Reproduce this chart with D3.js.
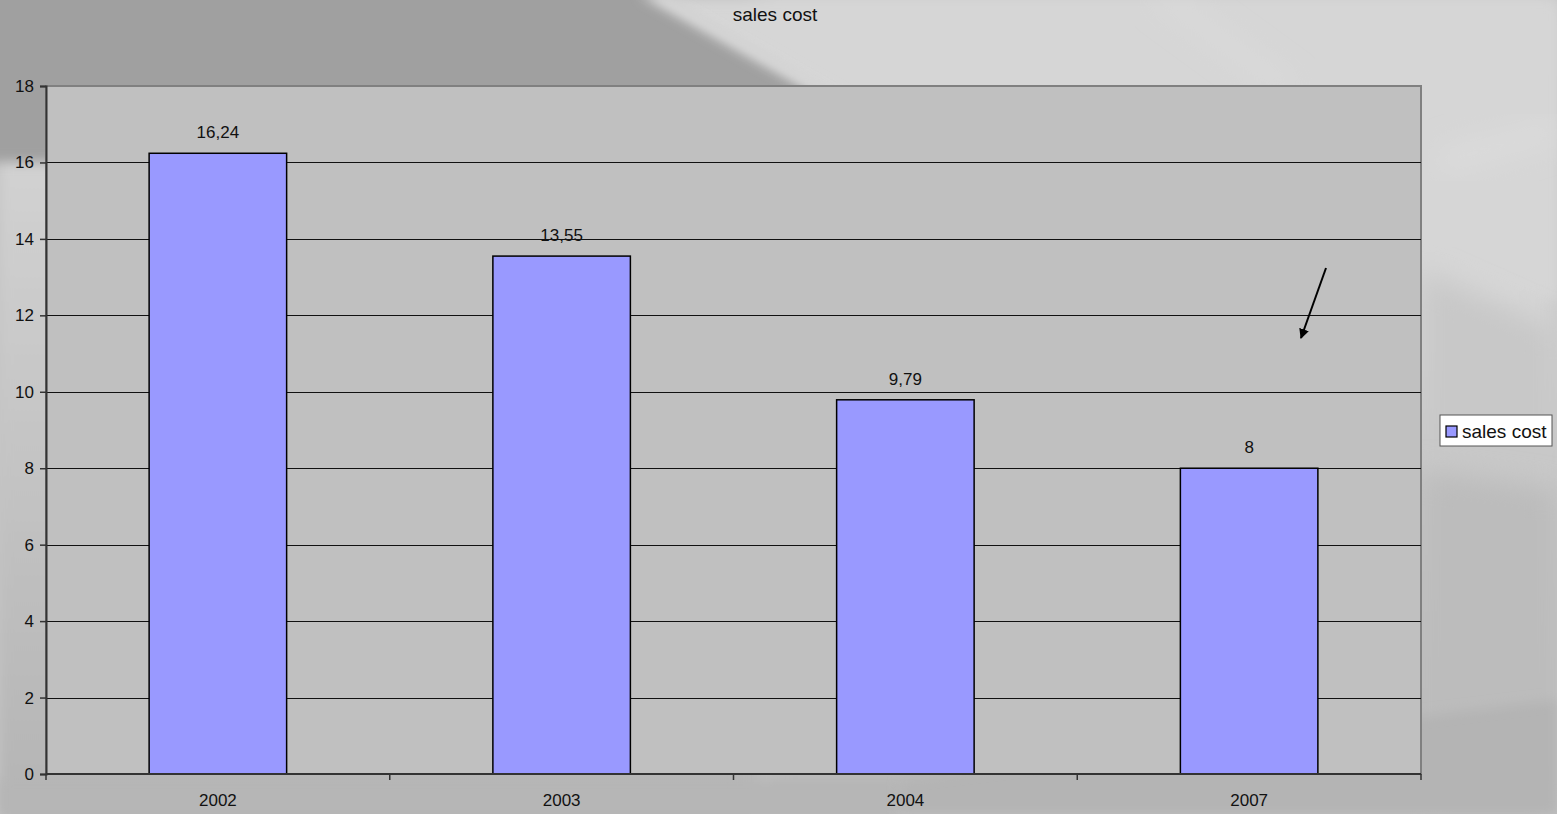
<!DOCTYPE html>
<html>
<head>
<meta charset="utf-8">
<script src="https://cdn.jsdelivr.net/npm/d3@7"></script>
<style>
  html, body { margin: 0; padding: 0; background: #c4c4c4; }
  svg { display: block; font-family: "Liberation Sans", Arial, sans-serif; }
</style>
</head>
<body>
<svg id="chart" width="1557" height="814"></svg>
<script>
// Sales cost per year
const categories = ["2002", "2003", "2004", "2007"];
const salesCost = [16.24, 13.55, 9.79, 8];
const yTicks = [0, 2, 4, 6, 8, 10, 12, 14, 16, 18];
const seriesName = "sales cost";
const chartTitle = "sales cost";

const W = 1557, H = 814;
const plot = { left: 46, top: 86, right: 1421, bottom: 774 };

const svg = d3.select("#chart");

// ---- soft greyscale backdrop ----
const defs = svg.append("defs");
defs.append("filter").attr("id", "soft")
  .attr("x", "-10%").attr("y", "-10%").attr("width", "120%").attr("height", "120%")
  .append("feGaussianBlur").attr("stdDeviation", 6);
defs.append("filter").attr("id", "softer")
  .attr("x", "-10%").attr("y", "-10%").attr("width", "120%").attr("height", "120%")
  .append("feGaussianBlur").attr("stdDeviation", 14);

const lg = defs.append("linearGradient").attr("id", "leftFade")
  .attr("x1", 0).attr("y1", 0).attr("x2", 0).attr("y2", 1);
lg.append("stop").attr("offset", "0%").attr("stop-color", "#d2d2d2");
lg.append("stop").attr("offset", "100%").attr("stop-color", "#b4b4b4");

const rg = defs.append("linearGradient").attr("id", "rightFade")
  .attr("x1", 0).attr("y1", 0).attr("x2", 0).attr("y2", 1);
rg.append("stop").attr("offset", "0%").attr("stop-color", "#dcdcdc");
rg.append("stop").attr("offset", "45%").attr("stop-color", "#d4d4d4");
rg.append("stop").attr("offset", "60%").attr("stop-color", "#c6c6c6");
rg.append("stop").attr("offset", "100%").attr("stop-color", "#b8b8b8");

const bg = svg.append("g");
bg.append("rect").attr("width", W).attr("height", H).attr("fill", "#c4c4c4");
// lower-left band
bg.append("rect").attr("x", 0).attr("y", 150).attr("width", 760).attr("height", H - 150)
  .attr("fill", "url(#leftFade)").attr("filter", "url(#soft)");
// right band
bg.append("rect").attr("x", 760).attr("y", 0).attr("width", W - 760).attr("height", H)
  .attr("fill", "url(#rightFade)").attr("filter", "url(#softer)");
// light upper right sky
bg.append("polygon").attr("points", "640,0 1557,0 1557,300 1440,260 840,100")
  .attr("fill", "#d6d6d6").attr("filter", "url(#soft)");
// dark upper-left slab with a diagonal edge
bg.append("polygon").attr("points", "-20,-20 630,-20 830,95 830,160 -20,162")
  .attr("fill", "#a0a0a0").attr("filter", "url(#soft)");
// light streak along the slab edge
bg.append("polygon").attr("points", "640,-5 664,-5 850,100 826,100")
  .attr("fill", "#dedede").attr("filter", "url(#soft)");
// faint streaks in the upper right
bg.append("polygon").attr("points", "1150,-5 1170,-5 1300,90 1280,90")
  .attr("fill", "#dcdcdc").attr("filter", "url(#softer)");
bg.append("polygon").attr("points", "1440,150 1557,120 1557,140 1440,175")
  .attr("fill", "#dcdcdc").attr("filter", "url(#softer)");
// shadow sweep on the far right
bg.append("polygon").attr("points", "1421,270 1557,330 1557,500 1421,470")
  .attr("fill", "#c8c8c8").attr("filter", "url(#softer)");
bg.append("polygon").attr("points", "1421,470 1557,490 1557,814 1421,814")
  .attr("fill", "#bcbcbc").attr("filter", "url(#softer)");
// bottom strip
bg.append("rect").attr("x", 0).attr("y", 780).attr("width", 900).attr("height", 40)
  .attr("fill", "#b6b6b6").attr("filter", "url(#soft)");
bg.append("polygon").attr("points", "900,780 1557,700 1557,814 900,814")
  .attr("fill", "#b4b4b4").attr("filter", "url(#soft)");

// ---- scales ----
const x = d3.scaleBand().domain(categories)
  .range([plot.left, plot.right]).paddingInner(0.6).paddingOuter(0.3);
const xOuter = d3.scaleBand().domain(categories).range([plot.left, plot.right]);
const y = d3.scaleLinear().domain([0, 18]).range([plot.bottom, plot.top]);

// ---- plot area ----
svg.append("rect")
  .attr("x", plot.left).attr("y", plot.top)
  .attr("width", plot.right - plot.left).attr("height", plot.bottom - plot.top)
  .attr("fill", "#c0c0c0").attr("stroke", "#808080").attr("stroke-width", 2);

// gridlines
svg.append("g").selectAll("line").data(yTicks.filter(d => d > 0 && d < 18)).join("line")
  .attr("x1", plot.left).attr("x2", plot.right)
  .attr("y1", d => Math.round(y(d)) + 0.5).attr("y2", d => Math.round(y(d)) + 0.5)
  .attr("stroke", "#111").attr("stroke-width", 1);

// bars
svg.append("g").selectAll("rect").data(salesCost).join("rect")
  .attr("x", (d, i) => x(categories[i]))
  .attr("y", d => y(d))
  .attr("width", x.bandwidth())
  .attr("height", d => y(0) - y(d))
  .attr("fill", "#9999ff").attr("stroke", "#000").attr("stroke-width", 1.5);

// value labels
svg.append("g").selectAll("text").data(salesCost).join("text")
  .attr("x", (d, i) => x(categories[i]) + x.bandwidth() / 2)
  .attr("y", d => y(d) - 15)
  .attr("text-anchor", "middle")
  .attr("font-size", 17).attr("fill", "#111")
  .text(d => String(d).replace(".", ","));

// y axis
const yAxis = d3.axisLeft(y).tickValues(yTicks).tickSize(6).tickPadding(6).tickFormat(d3.format("d"));
const gy = svg.append("g").attr("transform", `translate(${plot.left},0)`).call(yAxis);
gy.select(".domain").attr("stroke", "#333").attr("stroke-width", 2);
gy.selectAll(".tick line").attr("stroke", "#333").attr("stroke-width", 1.5);
gy.selectAll(".tick text").attr("font-size", 17).attr("fill", "#111")
  .attr("font-family", "'Liberation Sans', Arial, sans-serif");

// x axis: labels centred, ticks on category boundaries
const xAxis = d3.axisBottom(x).tickSize(0).tickPadding(20);
const gx = svg.append("g").attr("transform", `translate(0,${plot.bottom})`).call(xAxis);
gx.select(".domain").remove();
gx.selectAll(".tick text").attr("font-size", 17).attr("fill", "#111")
  .attr("font-family", "'Liberation Sans', Arial, sans-serif");
svg.append("line")
  .attr("x1", plot.left).attr("x2", plot.right)
  .attr("y1", plot.bottom).attr("y2", plot.bottom)
  .attr("stroke", "#333").attr("stroke-width", 2);
const boundaries = categories.map(c => xOuter(c)).concat([plot.right]);
svg.append("g").selectAll("line").data(boundaries).join("line")
  .attr("x1", d => d).attr("x2", d => d)
  .attr("y1", plot.bottom).attr("y2", plot.bottom + 6)
  .attr("stroke", "#333").attr("stroke-width", 1.5);

// title
svg.append("text").attr("x", 775).attr("y", 21)
  .attr("text-anchor", "middle").attr("font-size", 19).attr("fill", "#111")
  .text(chartTitle);

// arrow annotation
defs.append("marker").attr("id", "head")
  .attr("viewBox", "0 0 10 10").attr("refX", 9).attr("refY", 5)
  .attr("markerWidth", 5).attr("markerHeight", 5).attr("orient", "auto")
  .append("path").attr("d", "M0,0 L10,5 L0,10 z").attr("fill", "#000");
svg.append("line")
  .attr("x1", 1326).attr("y1", 268).attr("x2", 1301).attr("y2", 338)
  .attr("stroke", "#000").attr("stroke-width", 2).attr("marker-end", "url(#head)");

// legend
const legend = svg.append("g").attr("transform", "translate(1440,415)");
legend.append("rect").attr("width", 112).attr("height", 31)
  .attr("fill", "#fff").attr("stroke", "#555").attr("stroke-width", 1);
legend.append("rect").attr("x", 6).attr("y", 11).attr("width", 11).attr("height", 11)
  .attr("fill", "#9999ff").attr("stroke", "#000").attr("stroke-width", 1.2);
legend.append("text").attr("x", 22).attr("y", 23)
  .attr("font-size", 19).attr("fill", "#111").text(seriesName);
</script>
</body>
</html>
